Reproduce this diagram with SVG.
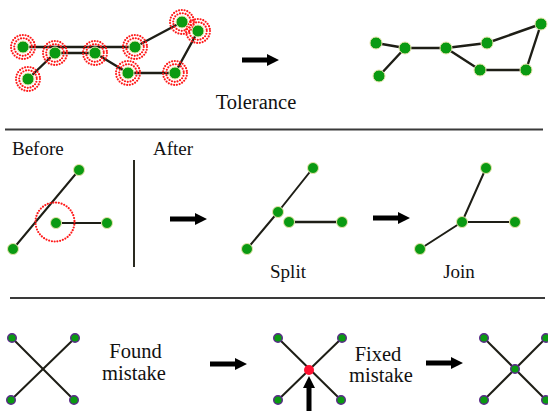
<svg xmlns="http://www.w3.org/2000/svg" width="548" height="411" viewBox="0 0 548 411">
<defs>
<style>
.edge{stroke:#1e1e16;stroke-width:2.4;fill:none;stroke-linecap:round}
.edge2{stroke:#1e1e16;stroke-width:2;fill:none;stroke-linecap:round}
.node{fill:#0a9a12;stroke:#e6e3a8;stroke-width:1}
.pnode{fill:#0a9a12;stroke:#5a2a8a;stroke-width:1.4}
.ring{fill:none;stroke:#ff1a1a;stroke-width:2.2;stroke-dasharray:0 2.8;stroke-linecap:round}
.sep{stroke:#3a3a3a;stroke-width:2}
.arrow{fill:#000}
</style>
<g id="arrowShape"><path d="M0,-2.5 L25,-2.5 L25,-6 L37,0 L25,6 L25,2.5 L0,2.5 Z"/></g>
</defs>
<rect width="548" height="411" fill="#fff"/>

<!-- separators -->
<g id="separators">
<line class="sep" x1="5" y1="129.5" x2="543" y2="129.5"/>
<line class="sep" x1="10" y1="298" x2="545" y2="298"/>
</g>

<!-- connectors -->
<g id="connectors">
<line class="edge" x1="23" y1="47" x2="135" y2="47"/>
<line class="edge" x1="55" y1="53" x2="95" y2="53"/>
<line class="edge" x1="55" y1="53" x2="28" y2="79"/>
<line class="edge" x1="95" y1="53" x2="128" y2="73"/>
<line class="edge" x1="128" y1="73" x2="175" y2="73"/>
<line class="edge" x1="175" y1="73" x2="198" y2="31"/>
<line class="edge" x1="135" y1="47" x2="182" y2="22"/>
<line class="edge" x1="376" y1="43" x2="405" y2="48"/>
<line class="edge" x1="405" y1="48" x2="446" y2="48"/>
<line class="edge" x1="446" y1="48" x2="487" y2="43"/>
<line class="edge" x1="487" y1="43" x2="541" y2="24"/>
<line class="edge" x1="541" y1="24" x2="526" y2="70"/>
<line class="edge" x1="526" y1="70" x2="480" y2="70"/>
<line class="edge" x1="480" y1="70" x2="446" y2="48"/>
<line class="edge" x1="405" y1="48" x2="379" y2="76"/>
<line class="edge2" x1="79" y1="170" x2="13" y2="249"/>
<line class="edge2" x1="56" y1="223" x2="107" y2="223"/>
<line x1="134" y1="160" x2="134" y2="267" stroke="#2a2a20" stroke-width="2"/>
<line class="edge2" x1="313" y1="168" x2="278" y2="212"/>
<line class="edge2" x1="278" y1="212" x2="247" y2="249"/>
<line class="edge" x1="289" y1="222" x2="342" y2="222"/>
<line class="edge2" x1="462" y1="222" x2="486" y2="168"/>
<line class="edge2" x1="462" y1="222" x2="420" y2="249"/>
<line class="edge2" x1="462" y1="222" x2="515" y2="222"/>
<line class="edge2" x1="12" y1="338" x2="74" y2="400"/>
<line class="edge2" x1="75" y1="338" x2="11" y2="400"/>
<line class="edge2" x1="278" y1="338" x2="341" y2="400"/>
<line class="edge2" x1="342" y1="338" x2="278" y2="400"/>
<line class="edge2" x1="484" y1="338" x2="546" y2="400"/>
<line class="edge2" x1="546" y1="338" x2="484" y2="400"/>
</g>

<!-- arrows -->
<g id="arrows" class="arrow">
<use href="#arrowShape" transform="translate(242,60)"/>
<use href="#arrowShape" transform="translate(170,219)"/>
<use href="#arrowShape" transform="translate(373,218)"/>
<use href="#arrowShape" transform="translate(210,364)"/>
<use href="#arrowShape" transform="translate(426,363)"/>
<use href="#arrowShape" transform="translate(309,413) rotate(-90)"/>
</g>

<!-- tolerance rings -->
<g id="rings">
<g transform="translate(23,47)"><circle class="ring" r="8.8"/><circle class="ring" r="12"/></g>
<g transform="translate(55,53)"><circle class="ring" r="8.8"/><circle class="ring" r="12"/></g>
<g transform="translate(95,53)"><circle class="ring" r="8.8"/><circle class="ring" r="12"/></g>
<g transform="translate(135,47)"><circle class="ring" r="8.8"/><circle class="ring" r="12"/></g>
<g transform="translate(182,22)"><circle class="ring" r="8.8"/><circle class="ring" r="12"/></g>
<g transform="translate(198,31)"><circle class="ring" r="8.8"/><circle class="ring" r="12"/></g>
<g transform="translate(128,73)"><circle class="ring" r="8.8"/><circle class="ring" r="12"/></g>
<g transform="translate(175,73)"><circle class="ring" r="8.8"/><circle class="ring" r="12"/></g>
<g transform="translate(28,79)"><circle class="ring" r="8.8"/><circle class="ring" r="12"/></g>
<circle class="ring" cx="55" cy="222" r="19.5" stroke-width="2.6" stroke-dasharray="0 3.2"/>
</g>

<g id="tl-a"><circle class="node" cx="23" cy="47" r="6"/></g>
<g id="tl-b"><circle class="node" cx="55" cy="53" r="6"/></g>
<g id="tl-c"><circle class="node" cx="95" cy="53" r="6"/></g>
<g id="tl-d"><circle class="node" cx="135" cy="47" r="6"/></g>
<g id="tl-e"><circle class="node" cx="182" cy="22" r="6"/></g>
<g id="tl-f"><circle class="node" cx="198" cy="31" r="6"/></g>
<g id="tl-g"><circle class="node" cx="128" cy="73" r="6"/></g>
<g id="tl-h"><circle class="node" cx="175" cy="73" r="6"/></g>
<g id="tl-i"><circle class="node" cx="28" cy="79" r="6"/></g>
<g id="tr-a"><circle class="node" cx="376" cy="43" r="6"/></g>
<g id="tr-b"><circle class="node" cx="405" cy="48" r="6"/></g>
<g id="tr-c"><circle class="node" cx="446" cy="48" r="6"/></g>
<g id="tr-d"><circle class="node" cx="487" cy="43" r="6"/></g>
<g id="tr-e"><circle class="node" cx="541" cy="24" r="6"/></g>
<g id="tr-f"><circle class="node" cx="526" cy="70" r="6"/></g>
<g id="tr-g"><circle class="node" cx="480" cy="70" r="6"/></g>
<g id="tr-h"><circle class="node" cx="379" cy="76" r="6"/></g>
<g id="bf-top"><circle class="node" cx="79" cy="170" r="5.5"/></g>
<g id="bf-bot"><circle class="node" cx="13" cy="249" r="5.5"/></g>
<g id="bf-l"><circle class="node" cx="56" cy="223" r="5.5"/></g>
<g id="bf-r"><circle class="node" cx="107" cy="223" r="5.5"/></g>
<g id="sp-top"><circle class="node" cx="313" cy="168" r="5.5"/></g>
<g id="sp-mid"><circle class="node" cx="278" cy="212" r="5.5"/></g>
<g id="sp-bot"><circle class="node" cx="247" cy="249" r="5.5"/></g>
<g id="sp-l"><circle class="node" cx="289" cy="222" r="5.5"/></g>
<g id="sp-r"><circle class="node" cx="342" cy="222" r="5.5"/></g>
<g id="jn-top"><circle class="node" cx="486" cy="168" r="5.5"/></g>
<g id="jn-c"><circle class="node" cx="462" cy="222" r="5.5"/></g>
<g id="jn-bot"><circle class="node" cx="420" cy="249" r="5.5"/></g>
<g id="jn-r"><circle class="node" cx="515" cy="222" r="5.5"/></g>
<g id="x1-nodes">
<circle class="pnode" cx="12" cy="338" r="4.3"/>
<circle class="pnode" cx="75" cy="338" r="4.3"/>
<circle class="pnode" cx="11" cy="400" r="4.3"/>
<circle class="pnode" cx="74" cy="400" r="4.3"/>
</g>
<g id="x2-nodes">
<circle class="pnode" cx="278" cy="338" r="4.3"/>
<circle class="pnode" cx="342" cy="338" r="4.3"/>
<circle class="pnode" cx="278" cy="400" r="4.3"/>
<circle class="pnode" cx="341" cy="400" r="4.3"/>
<circle cx="309" cy="370" r="5" fill="#ff1030"/>
</g>
<g id="x3-nodes">
<circle class="pnode" cx="484" cy="338" r="4.3"/>
<circle class="pnode" cx="546" cy="338" r="4.3"/>
<circle class="pnode" cx="484" cy="400" r="4.3"/>
<circle class="pnode" cx="546" cy="400" r="4.3"/>
<circle class="pnode" cx="515" cy="369" r="4.3"/>
</g>

<g id="labels" font-family="'Liberation Serif', 'Times New Roman', serif" font-size="19" fill="#111">
<text x="256" y="109" text-anchor="middle" font-size="20.5">Tolerance</text>
<text x="12" y="155">Before</text>
<text x="153" y="155">After</text>
<text x="288" y="278" text-anchor="middle">Split</text>
<text x="459" y="278" text-anchor="middle">Join</text>
<text x="135.5" y="358" text-anchor="middle" font-size="20.5">Found</text>
<text x="134" y="380" text-anchor="middle" font-size="20.5">mistake</text>
<text x="378" y="361" text-anchor="middle" font-size="20.5">Fixed</text>
<text x="381" y="382" text-anchor="middle" font-size="20.5">mistake</text>
</g>
</svg>
